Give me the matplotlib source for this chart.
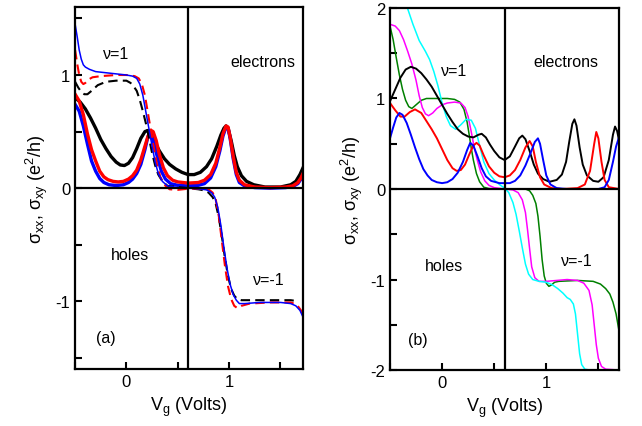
import matplotlib
matplotlib.use("Agg")
import matplotlib.pyplot as plt
from matplotlib.ticker import MultipleLocator

plt.rcParams["font.family"] = ["Liberation Sans", "DejaVu Sans"]
plt.rcParams["mathtext.fontset"] = "custom"
plt.rcParams["mathtext.rm"] = "Liberation Sans"
plt.rcParams["mathtext.it"] = "Liberation Sans"
plt.rcParams["axes.unicode_minus"] = False

# ---- panel (a): sigma_xx (thick) ----
a_xx_black_x = [-0.5, -0.45, -0.4, -0.35, -0.3, -0.25, -0.2, -0.15, -0.1, -0.06, -0.02, 0.02, 0.06, 0.1, 0.14, 0.18,
                0.21, 0.24, 0.28, 0.32, 0.37, 0.42, 0.48, 0.54, 0.6, 0.66, 0.72, 0.78, 0.83, 0.88, 0.92, 0.95, 0.97,
                0.99, 1.02, 1.05, 1.08, 1.12, 1.17, 1.24, 1.35, 1.5, 1.6, 1.65, 1.69, 1.72]
a_xx_black_y = [0.80, 0.76, 0.70, 0.62, 0.53, 0.43, 0.35, 0.28, 0.23, 0.205, 0.20, 0.22, 0.27, 0.35, 0.44, 0.50,
                0.51, 0.48, 0.40, 0.33, 0.26, 0.21, 0.17, 0.14, 0.12, 0.12, 0.14, 0.19, 0.26, 0.37, 0.47, 0.53, 0.55,
                0.53, 0.42, 0.29, 0.19, 0.11, 0.06, 0.03, 0.01, 0.01, 0.03, 0.06, 0.12, 0.18]

a_xx_red_x = [-0.5, -0.46, -0.42, -0.38, -0.34, -0.3, -0.26, -0.22, -0.18, -0.13, -0.08, -0.03, 0.02, 0.06, 0.1,
              0.14, 0.18, 0.21, 0.24, 0.26, 0.29, 0.32, 0.36, 0.4, 0.45, 0.5, 0.6, 0.7, 0.76, 0.82, 0.87, 0.91, 0.94,
              0.97, 0.99, 1.01, 1.04, 1.07, 1.1, 1.15, 1.25, 1.4, 1.55, 1.62, 1.67, 1.7, 1.72]
a_xx_red_y = [0.83, 0.77, 0.65, 0.48, 0.34, 0.24, 0.15, 0.10, 0.075, 0.06, 0.055, 0.06, 0.08, 0.11, 0.16,
              0.25, 0.37, 0.46, 0.51, 0.50, 0.42, 0.30, 0.18, 0.11, 0.07, 0.055, 0.045, 0.05, 0.07, 0.12, 0.22, 0.36,
              0.48, 0.55, 0.54, 0.45, 0.28, 0.14, 0.07, 0.03, 0.01, 0.005, 0.01, 0.02, 0.05, 0.09, 0.13]

a_xx_blue_x = [-0.5, -0.46, -0.42, -0.38, -0.34, -0.3, -0.26, -0.22, -0.17, -0.12, -0.08, -0.03, 0.02, 0.06, 0.1,
               0.14, 0.18, 0.2, 0.22, 0.24, 0.27, 0.3, 0.34, 0.38, 0.43, 0.5, 0.6, 0.7, 0.76, 0.82, 0.87, 0.91, 0.94,
               0.97, 0.99, 1.01, 1.04, 1.07, 1.1, 1.15, 1.25, 1.4, 1.55, 1.62, 1.67, 1.7, 1.72]
a_xx_blue_y = [0.74, 0.68, 0.55, 0.39, 0.24, 0.15, 0.085, 0.05, 0.03, 0.025, 0.025, 0.03, 0.05, 0.08, 0.13,
               0.21, 0.34, 0.42, 0.48, 0.47, 0.39, 0.28, 0.15, 0.08, 0.04, 0.025, 0.02, 0.025, 0.04, 0.09, 0.19, 0.33,
               0.46, 0.54, 0.53, 0.44, 0.26, 0.12, 0.05, 0.02, 0.005, 0.0, 0.005, 0.015, 0.04, 0.08, 0.12]

# ---- panel (a): sigma_xy ----
a_xy_blue_x = [-0.5, -0.48, -0.46, -0.44, -0.42, -0.4, -0.36, -0.3, -0.2, -0.1, 0.0, 0.06, 0.1, 0.13, 0.16, 0.19,
               0.22, 0.25, 0.28, 0.31, 0.35, 0.4, 0.5, 0.6, 0.7, 0.78, 0.83, 0.86, 0.89, 0.92, 0.95, 0.98, 1.01, 1.04,
               1.07, 1.1, 1.15, 1.3, 1.5, 1.6, 1.65, 1.69, 1.72]
a_xy_blue_y = [1.45, 1.34, 1.22, 1.14, 1.09, 1.07, 1.05, 1.03, 1.02, 1.01, 1.0, 0.99, 0.97, 0.92, 0.82, 0.67,
               0.52, 0.37, 0.23, 0.13, 0.06, 0.02, 0.005, 0.0, -0.005, -0.015, -0.04, -0.08, -0.17, -0.33, -0.53,
               -0.71, -0.85, -0.94, -0.99, -1.02, -1.02, -1.01, -1.01, -1.02, -1.04, -1.08, -1.14]

a_xy_red_x = [-0.5, -0.48, -0.46, -0.44, -0.42, -0.4, -0.37, -0.33, -0.25, -0.1, 0.0, 0.08, 0.12, 0.15, 0.18, 0.21,
              0.24, 0.27, 0.3, 0.33, 0.37, 0.42, 0.5, 0.6, 0.7, 0.8, 0.84, 0.87, 0.9, 0.93, 0.96, 0.99, 1.02, 1.05,
              1.08, 1.12, 1.2, 1.4, 1.6, 1.66, 1.7, 1.72]
a_xy_red_y = [1.22, 1.1, 1.0, 0.94, 0.92, 0.93, 0.96, 0.98, 0.99, 1.0, 1.0, 0.99, 0.97, 0.92, 0.82, 0.66,
              0.5, 0.34, 0.2, 0.1, 0.03, -0.01, -0.015, -0.005, -0.005, -0.01, -0.04, -0.1, -0.25, -0.47, -0.69,
              -0.87, -0.98, -1.04, -1.06, -1.04, -1.02, -1.01, -1.01, -1.03, -1.08, -1.12]

a_xy_black_x = [-0.5, -0.47, -0.44, -0.41, -0.38, -0.34, -0.28, -0.2, -0.1, 0.0, 0.04, 0.07, 0.1, 0.13, 0.16, 0.19,
                0.22, 0.25, 0.28, 0.31, 0.35, 0.4, 0.5, 0.6, 0.7, 0.76, 0.8, 0.84, 0.87, 0.9, 0.93, 0.96, 0.99, 1.02,
                1.05, 1.08, 1.12, 1.2, 1.4, 1.6, 1.68]
a_xy_black_y = [0.94, 0.89, 0.85, 0.83, 0.83, 0.86, 0.91, 0.94, 0.95, 0.95, 0.93, 0.9, 0.86, 0.78, 0.68, 0.57,
                0.44, 0.31, 0.2, 0.12, 0.06, 0.02, 0.01, 0.0, -0.01, -0.02, -0.04, -0.08, -0.14, -0.26, -0.43, -0.62,
                -0.78, -0.89, -0.95, -0.98, -0.99, -0.99, -0.99, -0.99, -1.0]

# ---- panel (b): sigma_xx ----
b_xx_black_x = [-0.5, -0.45, -0.4, -0.35, -0.3, -0.25, -0.2, -0.15, -0.1, -0.05, 0.0, 0.05, 0.1, 0.15, 0.2, 0.25,
                0.3, 0.35, 0.38, 0.42, 0.46, 0.5, 0.55, 0.6, 0.65, 0.7, 0.74, 0.77, 0.8, 0.84, 0.88, 0.92, 0.97,
                1.03, 1.1, 1.15, 1.19, 1.22, 1.25, 1.27, 1.29, 1.32, 1.35, 1.39, 1.45, 1.5, 1.55, 1.6, 1.64, 1.66,
                1.68, 1.7]
b_xx_black_y = [0.97, 1.1, 1.23, 1.32, 1.35, 1.33, 1.28, 1.21, 1.13, 1.03, 0.93, 0.83, 0.74, 0.66, 0.61, 0.58,
                0.57, 0.6, 0.61, 0.57, 0.49, 0.42, 0.35, 0.32, 0.36, 0.47, 0.56, 0.59, 0.55, 0.42, 0.27, 0.17, 0.11,
                0.08, 0.1, 0.16, 0.3, 0.52, 0.72, 0.77, 0.7, 0.46, 0.27, 0.15, 0.09, 0.08, 0.13, 0.32, 0.6, 0.69,
                0.64, 0.53]

b_xx_red_x = [-0.5, -0.45, -0.4, -0.36, -0.31, -0.26, -0.2, -0.15, -0.1, -0.05, 0.0, 0.05, 0.1, 0.14, 0.18, 0.22,
              0.26, 0.3, 0.33, 0.36, 0.4, 0.45, 0.5, 0.55, 0.6, 0.65, 0.7, 0.75, 0.8, 0.84, 0.87, 0.9, 0.94, 0.98,
              1.05, 1.15, 1.3, 1.37, 1.42, 1.46, 1.48, 1.5, 1.53, 1.56, 1.6, 1.7]
b_xx_red_y = [0.95, 0.87, 0.8, 0.8, 0.85, 0.88, 0.84, 0.75, 0.66, 0.56, 0.44, 0.32, 0.23, 0.2, 0.21, 0.27,
              0.38, 0.48, 0.51, 0.48, 0.37, 0.25, 0.18, 0.14, 0.13, 0.15, 0.21, 0.32, 0.46, 0.53, 0.47, 0.3, 0.13,
              0.05, 0.01, 0.0, 0.01, 0.05, 0.2, 0.5, 0.63, 0.56, 0.3, 0.1, 0.02, 0.0]

b_xx_blue_x = [-0.5, -0.47, -0.44, -0.41, -0.38, -0.34, -0.3, -0.26, -0.22, -0.18, -0.14, -0.1, -0.05, 0.0, 0.05,
               0.1, 0.15, 0.2, 0.24, 0.27, 0.3, 0.34, 0.38, 0.42, 0.47, 0.55, 0.65, 0.7, 0.75, 0.8, 0.85, 0.89, 0.92,
               0.94, 0.97, 1.0, 1.04, 1.1, 1.2, 1.5, 1.56, 1.6, 1.64, 1.67, 1.7]
b_xx_blue_y = [0.56, 0.68, 0.79, 0.84, 0.82, 0.73, 0.6, 0.46, 0.33, 0.22, 0.15, 0.1, 0.075, 0.065, 0.075,
               0.11, 0.18, 0.3, 0.43, 0.51, 0.48, 0.36, 0.23, 0.14, 0.09, 0.065, 0.065, 0.09, 0.15, 0.26, 0.4, 0.52,
               0.56, 0.5, 0.32, 0.15, 0.05, 0.01, 0.0, 0.0, 0.02, 0.1, 0.3, 0.47, 0.58]

# ---- panel (b): sigma_xy ----
b_xy_green_x = [-0.5, -0.47, -0.44, -0.41, -0.38, -0.35, -0.32, -0.29, -0.25, -0.2, -0.15, -0.05, 0.05, 0.12,
                0.17, 0.21, 0.24, 0.26, 0.28, 0.3, 0.33, 0.36, 0.4, 0.45, 0.6, 0.8, 0.84, 0.87, 0.9, 0.92, 0.94,
                0.96, 0.98, 1.0, 1.025, 1.05, 1.08, 1.12, 1.3, 1.45, 1.52, 1.57, 1.61, 1.64, 1.67, 1.7]
b_xy_green_y = [1.8, 1.65, 1.45, 1.26, 1.1, 0.98, 0.91, 0.89, 0.93, 0.98, 1.0, 1.0, 1.0, 0.99,
                0.96, 0.88, 0.74, 0.6, 0.45, 0.32, 0.17, 0.08, 0.02, 0.005, 0.0, 0.0, -0.02, -0.07, -0.16, -0.3,
                -0.52, -0.78, -0.96, -1.04, -1.075, -1.06, -1.03, -1.02, -1.01, -1.02, -1.05, -1.1, -1.16, -1.25,
                -1.38, -1.58]

b_xy_mag_x = [-0.5, -0.45, -0.41, -0.37, -0.33, -0.29, -0.25, -0.22, -0.19, -0.16, -0.13, -0.09, -0.05, 0.0,
              0.05, 0.12, 0.18, 0.22, 0.25, 0.28, 0.31, 0.34, 0.37, 0.41, 0.45, 0.5, 0.6, 0.68, 0.73, 0.77, 0.8,
              0.82, 0.84, 0.86, 0.89, 0.93, 1.0, 1.1, 1.2, 1.3, 1.36, 1.41, 1.44, 1.46, 1.48, 1.5, 1.53, 1.57, 1.7]
b_xy_mag_y = [1.82, 1.8, 1.75, 1.65, 1.52, 1.38, 1.2, 1.03, 0.9, 0.83, 0.81, 0.84, 0.89, 0.93,
              0.95, 0.96, 0.95, 0.9, 0.8, 0.63, 0.45, 0.31, 0.19, 0.09, 0.04, 0.015, 0.0, -0.01, -0.04, -0.12,
              -0.26, -0.45, -0.66, -0.86, -0.98, -1.02, -1.02, -1.01, -1.0, -1.01, -1.04, -1.12, -1.28, -1.5,
              -1.72, -1.87, -1.96, -1.99, -2.0]

b_xy_cyan_x = [-0.35, -0.33, -0.28, -0.22, -0.16, -0.12, -0.08, -0.04, 0.0, 0.04, 0.08, 0.13, 0.18, 0.23, 0.28,
               0.32, 0.36, 0.4, 0.45, 0.5, 0.55, 0.6, 0.64, 0.68, 0.71, 0.74, 0.77, 0.8, 0.83, 0.87, 0.93, 1.0,
               1.06, 1.11, 1.16, 1.2, 1.23, 1.26, 1.28, 1.3, 1.32, 1.34, 1.37, 1.42, 1.7]
b_xy_cyan_y = [2.1, 1.99, 1.82, 1.64, 1.52, 1.43, 1.3, 1.14, 0.95, 0.8, 0.7, 0.66, 0.71, 0.77, 0.76,
               0.67, 0.48, 0.3, 0.17, 0.1, 0.05, 0.01, -0.04, -0.15, -0.28, -0.46, -0.65, -0.83, -0.94, -1.0,
               -1.02, -1.03, -1.06, -1.1, -1.15, -1.2, -1.22, -1.27, -1.38, -1.6, -1.82, -1.94, -1.99, -2.0, -2.0]


fig = plt.figure(figsize=(6.42, 4.27), dpi=100)
ax1 = fig.add_axes([0.117, 0.133, 0.355, 0.848])
ax2 = fig.add_axes([0.6075, 0.131, 0.357, 0.848])

dash = (0, (4.5, 2.5))

# (a)
ax1.plot(a_xx_black_x, a_xx_black_y, color="black", lw=2.4)
ax1.plot(a_xx_blue_x, a_xx_blue_y, color="blue", lw=2.4)
ax1.plot(a_xx_red_x, a_xx_red_y, color="red", lw=2.4)
ax1.plot(a_xy_black_x, a_xy_black_y, color="black", lw=1.5, linestyle=dash)
ax1.plot(a_xy_red_x, a_xy_red_y, color="red", lw=1.5, linestyle=dash)
ax1.plot(a_xy_blue_x, a_xy_blue_y, color="blue", lw=1.1)
ax1.set_xlim(-0.5, 1.72)
ax1.set_ylim(-1.6, 1.6)

# (b)
ax2.plot(b_xy_green_x, b_xy_green_y, color="green", lw=1.1)
ax2.plot(b_xy_mag_x, b_xy_mag_y, color="magenta", lw=1.1)
ax2.plot(b_xy_cyan_x, b_xy_cyan_y, color="cyan", lw=1.1)
ax2.plot(b_xx_black_x, b_xx_black_y, color="black", lw=1.4)
ax2.plot(b_xx_red_x, b_xx_red_y, color="red", lw=1.4)
ax2.plot(b_xx_blue_x, b_xx_blue_y, color="blue", lw=1.4)
ax2.set_xlim(-0.5, 1.7)
ax2.set_ylim(-2, 2)

for ax in (ax1, ax2):
    ax.axhline(0, color="black", lw=1.6)
    ax.axvline(0.6, color="black", lw=1.6)
    ax.xaxis.set_major_locator(MultipleLocator(1))
    ax.xaxis.set_minor_locator(MultipleLocator(0.5))
    ax.yaxis.set_major_locator(MultipleLocator(1))
    ax.yaxis.set_minor_locator(MultipleLocator(0.5))
    ax.tick_params(which="both", direction="in", length=5, width=1.5, labelsize=12)
    for s in ax.spines.values():
        s.set_linewidth(1.6)
    ax.set_xlabel("V$_g$ (Volts)", fontsize=13)
    ax.set_ylabel("σ$_{xx}$, σ$_{xy}$ (e$^2$/h)", fontsize=13)

ax1.text(-0.1, 1.19, "ν=1", fontsize=11.5, ha="center", va="center")
ax1.text(1.33, 1.12, "electrons", fontsize=11.5, ha="center", va="center")
ax1.text(0.03, -0.59, "holes", fontsize=11.5, ha="center", va="center")
ax1.text(1.39, -0.81, "ν=-1", fontsize=11.5, ha="center", va="center")
ax1.text(-0.2, -1.32, "(a)", fontsize=11.5, ha="center", va="center")

ax2.text(0.12, 1.31, "ν=1", fontsize=11.5, ha="center", va="center")
ax2.text(1.19, 1.41, "electrons", fontsize=11.5, ha="center", va="center")
ax2.text(0.02, -0.85, "holes", fontsize=11.5, ha="center", va="center")
ax2.text(1.29, -0.79, "ν=-1", fontsize=11.5, ha="center", va="center")
ax2.text(-0.23, -1.66, "(b)", fontsize=11.5, ha="center", va="center")

fig.savefig("out.png", dpi=100)
